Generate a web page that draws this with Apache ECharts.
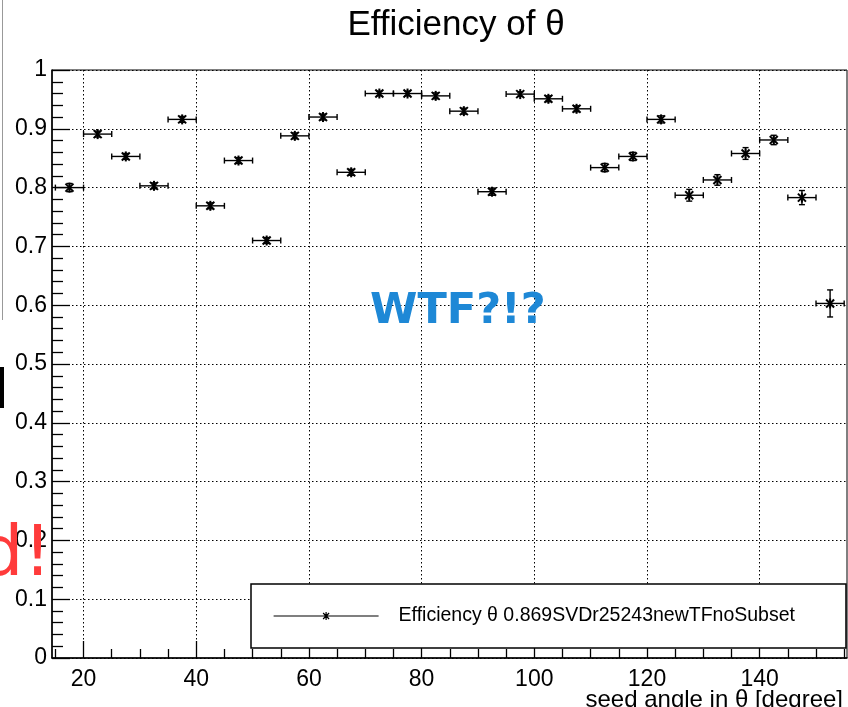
<!DOCTYPE html>
<html>
<head>
<meta charset="utf-8">
<script src="https://cdn.jsdelivr.net/npm/echarts@6/dist/echarts.min.js"></script>
<style>
html,body{margin:0;padding:0;background:#fff;}
#chart{width:848px;height:707px;}
</style>
</head>
<body>
<div id="chart"></div>
<script>
// Bin centres (seed angle theta, degree)
const thetaCenters = [17.5,22.5,27.5,32.5,37.5,42.5,47.5,52.5,57.5,62.5,67.5,72.5,77.5,82.5,87.5,92.5,97.5,102.5,107.5,112.5,117.5,122.5,127.5,132.5,137.5,142.5,147.5,152.5];
// Half bin width
const thetaHalfWidth = [2.5,2.5,2.5,2.5,2.5,2.5,2.5,2.5,2.5,2.5,2.5,2.5,2.5,2.5,2.5,2.5,2.5,2.5,2.5,2.5,2.5,2.5,2.5,2.5,2.5,2.5,2.5,2.5];
// Efficiency values
const efficiency = [0.800,0.891,0.853,0.803,0.916,0.769,0.846,0.710,0.888,0.920,0.826,0.960,0.960,0.956,0.930,0.793,0.959,0.951,0.934,0.834,0.853,0.916,0.787,0.813,0.858,0.881,0.783,0.603];
// Efficiency errors
const efficiencyErr = [0.007,0.005,0.005,0.005,0.005,0.005,0.005,0.005,0.005,0.005,0.005,0.004,0.004,0.005,0.005,0.006,0.004,0.005,0.005,0.007,0.007,0.006,0.010,0.009,0.010,0.008,0.012,0.023];
// Axis tick labels
const xMajorTicks = [20,40,60,80,100,120,140];
const xMinorTicks = [15,25,30,35,45,50,55,65,70,75,85,90,95,105,110,115,125,130,135,145,150,155];
const seriesName = 'Efficiency θ 0.869SVDr25243newTFnoSubset';

const chart = echarts.init(document.getElementById('chart'), null, {renderer:'canvas'});
const font = 'Liberation Sans, Arial, Helvetica, sans-serif';

const data = thetaCenters.map((x,i)=>[x, efficiency[i], thetaHalfWidth[i], efficiencyErr[i]]);

function renderItem(params, api){
  const x = api.value(0), y = api.value(1), ex = api.value(2), ey = api.value(3);
  const c = api.coord([x, y]);
  const l = api.coord([x-ex, y]);
  const r = api.coord([x+ex, y]);
  const t = api.coord([x, y+ey]);
  const b = api.coord([x, y-ey]);
  const st = {stroke:'#000', lineWidth:1.4};
  const cap = 3, m = 5;
  const els = [
    {type:'line', shape:{x1:l[0],y1:c[1],x2:r[0],y2:c[1]}, style:st},
    {type:'line', shape:{x1:l[0],y1:c[1]-cap,x2:l[0],y2:c[1]+cap}, style:st},
    {type:'line', shape:{x1:r[0],y1:c[1]-cap,x2:r[0],y2:c[1]+cap}, style:st},
    {type:'line', shape:{x1:c[0],y1:t[1],x2:c[0],y2:b[1]}, style:st},
    {type:'line', shape:{x1:c[0]-cap,y1:t[1],x2:c[0]+cap,y2:t[1]}, style:st},
    {type:'line', shape:{x1:c[0]-cap,y1:b[1],x2:c[0]+cap,y2:b[1]}, style:st},
    // asterisk marker
    {type:'line', shape:{x1:c[0],y1:c[1]-m,x2:c[0],y2:c[1]+m}, style:{stroke:'#000',lineWidth:2}},
    {type:'line', shape:{x1:c[0]-m*0.8,y1:c[1]-m*0.8,x2:c[0]+m*0.8,y2:c[1]+m*0.8}, style:{stroke:'#000',lineWidth:2}},
    {type:'line', shape:{x1:c[0]-m*0.8,y1:c[1]+m*0.8,x2:c[0]+m*0.8,y2:c[1]-m*0.8}, style:{stroke:'#000',lineWidth:2}}
  ];
  return {type:'group', children: els};
}

const option = {
  animation:false,
  backgroundColor:'#fff',
  title:[
    {text:'Efficiency of θ', left:451, top:3, textAlign:'center',
     textStyle:{fontFamily:font, fontSize:35, fontWeight:'normal', color:'#000'}},
    {text:'seed angle in θ [degree]', right:0, top:683,
     textStyle:{fontFamily:font, fontSize:24, fontWeight:'normal', color:'#000'}}
  ],
  grid:{left:52, top:70, right:1, bottom:49, show:true, borderColor:'#000', borderWidth:1, backgroundColor:'#fff'},
  legend:{
    data:[seriesName],
    left:251, top:584,
    orient:'vertical',
    padding:[22,51,22,22],
    borderColor:'#000', borderWidth:1.5, backgroundColor:'#fff',
    itemWidth:105, itemHeight:9,
    icon:'path://M0,4.5H105M52.5,0.5V8.5M49.5,1.5L55.5,7.5M49.5,7.5L55.5,1.5',
    itemStyle:{color:'transparent', borderColor:'#000', borderWidth:1.2},
    textStyle:{fontFamily:font, fontSize:19.5, color:'#000', padding:[0,0,0,15]}
  },
  xAxis:[
    {type:'value', min:14.4, max:155.5,
     axisLine:{show:true, lineStyle:{color:'#000', width:1.5}},
     axisTick:{show:true, inside:true, length:17, customValues:xMajorTicks, lineStyle:{color:'#000', width:1.3}},
     axisLabel:{show:true, customValues:xMajorTicks, margin:10, fontFamily:font, fontSize:23, color:'#000'},
     splitLine:{show:true, lineStyle:{color:'#000', type:[1.5,2.5], width:1}}},
    {type:'value', min:14.4, max:155.5, position:'bottom',
     axisLine:{show:false},
     axisTick:{show:true, inside:true, length:9, customValues:xMinorTicks, lineStyle:{color:'#000', width:1.3}},
     axisLabel:{show:false},
     splitLine:{show:false}}
  ],
  yAxis:{type:'value', min:0, max:1, interval:0.1,
    axisLine:{show:true, lineStyle:{color:'#000', width:1.5}},
    axisTick:{show:true, inside:true, length:18, lineStyle:{color:'#000', width:1.3}},
    minorTick:{show:true, splitNumber:5, length:11, lineStyle:{color:'#000', width:1.3}},
    axisLabel:{margin:5, fontFamily:font, fontSize:23, color:'#000',
      formatter:v=>String(Math.round(v*10)/10)},
    splitLine:{show:true, lineStyle:{color:'#000', type:[1.5,2.5], width:1}}
  },
  series:[{
    name:seriesName,
    type:'custom',
    xAxisIndex:0,
    renderItem:renderItem,
    encode:{x:0, y:1},
    data:data,
    z:5
  }],
  graphic:[
    {type:'line', shape:{x1:2.5,y1:0,x2:2.5,y2:320}, style:{stroke:'#999', lineWidth:1}, z:10},
    {type:'rect', shape:{x:0,y:367,width:4,height:41}, style:{fill:'#000'}, z:10},
    {type:'text', left:370, top:290, z:20,
     style:{text:'WTF?!?', fill:'#1e88d6', font:'bold 43px "DejaVu Sans", sans-serif'}},
    {type:'text', left:-21, top:522, z:20,
     style:{text:'d!', fill:'#ff3b3b', font:'70px "DejaVu Sans", sans-serif'}}
  ]
};
chart.setOption(option);
</script>
</body>
</html>
